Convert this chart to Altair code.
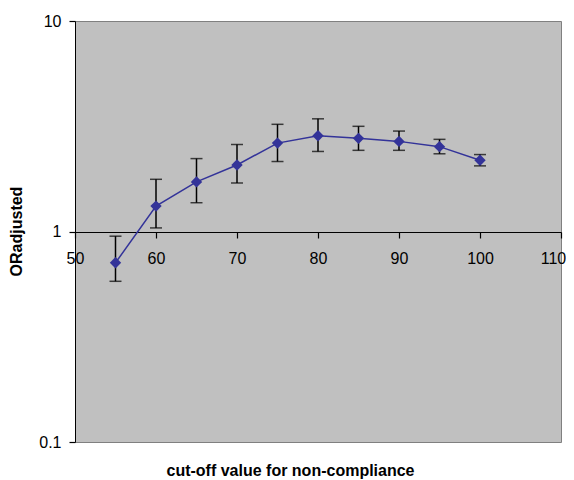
import altair as alt
import pandas as pd

cutoff = [55, 60, 65, 70, 75, 80, 85, 90, 95, 100]
or_adj = [0.71, 1.32, 1.72, 2.07, 2.63, 2.85, 2.77, 2.68, 2.53, 2.18]
ci_low = [0.58, 1.04, 1.37, 1.70, 2.15, 2.40, 2.43, 2.43, 2.34, 2.05]
ci_high = [0.95, 1.77, 2.22, 2.59, 3.23, 3.43, 3.16, 3.00, 2.74, 2.32]

x_ticks = [50, 60, 70, 80, 90, 100, 110]
y_ticks = [0.1, 1, 10]

df = pd.DataFrame({"x": cutoff, "y": or_adj, "lo": ci_low, "hi": ci_high})

FONT = "Liberation Sans"

xscale = alt.Scale(domain=[50, 110], nice=False, zero=False)
yscale = alt.Scale(type="log", domain=[0.1, 10], nice=False)

xaxis = alt.Axis(
    values=x_ticks, offset=-210, grid=False, domainColor="black", tickColor="black",
    tickSize=6, tickWidth=1.2, labelPadding=12, labelFontSize=16, labelFont=FONT, labelColor="black",
    labelOffset=alt.ExprRef("datum.value == 110 ? -8 : 0"),
    title="cut-off value for non-compliance", titleFont=FONT, titleFontSize=16,
    titleFontWeight="bold", titleColor="black", titleX=215, titleY=238,
    titleBaseline="middle", titleAlign="center", labelFlush=False,
)
yaxis = alt.Axis(
    values=y_ticks, format=".1~f", grid=False, domainColor="black", tickColor="black",
    tickSize=6, tickWidth=1.2, labelPadding=8, labelFontSize=16, labelFont=FONT, labelColor="black",
    title="ORadjusted", titleFont=FONT, titleFontSize=16, titleFontWeight="bold",
    titleColor="black", titleX=-59, titleY=210, titleBaseline="middle",
    titleAlign="center", titleAngle=270, labelFlush=False,
)

base = alt.Chart(df)

bars = base.mark_rule(color="black", strokeWidth=1.5).encode(
    x=alt.X("x:Q", scale=xscale, axis=xaxis),
    y=alt.Y("lo:Q", scale=yscale, axis=yaxis),
    y2="hi:Q",
)
cap_lo = base.mark_tick(color="black", orient="horizontal", size=12, thickness=1.5).encode(
    x="x:Q", y="lo:Q"
)
cap_hi = base.mark_tick(color="black", orient="horizontal", size=12, thickness=1.5).encode(
    x="x:Q", y="hi:Q"
)
line = base.mark_line(color="#333399", strokeWidth=1.5).encode(x="x:Q", y="y:Q")
pts = base.mark_point(shape="diamond", filled=True, size=130, color="#333399", opacity=1).encode(
    x="x:Q", y="y:Q"
)

chart = alt.layer(bars, cap_lo, cap_hi, line, pts).properties(
    width=486, height=421,
    autosize=alt.AutoSizeParams(type="none"),
    padding={"left": 67, "top": 13, "right": 5, "bottom": 38},
    background="white",
).configure_view(fill="#C0C0C0", stroke="#808080", strokeWidth=1)

chart.save("out.html", embed_options={"renderer": "svg", "actions": False})
